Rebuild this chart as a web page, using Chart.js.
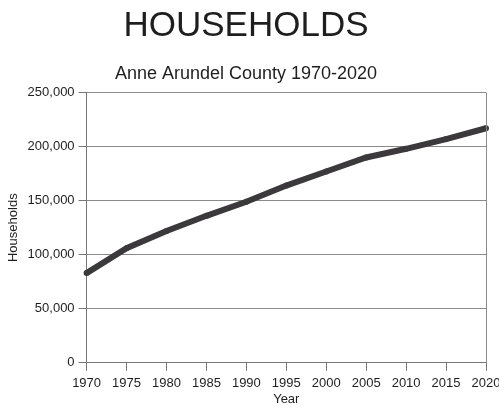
<!DOCTYPE html>
<html>
<head>
<meta charset="utf-8">
<script src="https://cdn.jsdelivr.net/npm/chart.js@4/dist/chart.umd.min.js"></script>
<style>
  html, body { margin: 0; padding: 0; background: #fff; }
  #wrap { width: 499px; height: 409px; position: relative; }
</style>
</head>
<body>
<div id="wrap"><canvas id="hhChart"></canvas></div>
<script>
'use strict';

// --- data ---
const YEARS = ['1970', '1975', '1980', '1985', '1990', '1995', '2000', '2005', '2010', '2015', '2020'];
const HOUSEHOLDS = [83000, 106000, 122000, 136000, 149000, 164000, 177000, 190000, 198000, 207000, 217000];
const Y_MIN = 0;
const Y_MAX = 250000;
const Y_STEP = 50000;

const FONT = '"Liberation Sans", Arial, sans-serif';
const INK = '#1e1e1e';

// right edge of the plot box
const rightBorder = {
  id: 'rightBorder',
  afterDraw(chart) {
    const { ctx, chartArea: a } = chart;
    ctx.save();
    ctx.strokeStyle = '#8a8a8a';
    ctx.lineWidth = 1;
    ctx.beginPath();
    ctx.moveTo(a.right + 0.5, a.top);
    ctx.lineTo(a.right + 0.5, a.bottom);
    ctx.stroke();
    ctx.restore();
  },
};

new Chart(document.getElementById('hhChart').getContext('2d'), {
  type: 'line',
  data: {
    labels: YEARS,
    datasets: [{
      label: 'Households',
      data: HOUSEHOLDS,
      borderColor: '#3b393b',
      backgroundColor: '#3b393b',
      borderWidth: 6,
      pointRadius: 3,
      pointBorderWidth: 0,
      tension: 0,
      fill: false,
    }],
  },
  options: {
    responsive: true,
    maintainAspectRatio: false,
    animation: false,
    layout: { autoPadding: false, padding: { top: 5, left: 6, right: 13, bottom: 2 } },
    plugins: {
      legend: { display: false },
      tooltip: { enabled: false },
      title: {
        display: true,
        text: 'HOUSEHOLDS',
        color: INK,
        font: { family: FONT, size: 35, weight: 'normal' },
        padding: { top: 0, bottom: 16 },
      },
      subtitle: {
        display: true,
        text: 'Anne Arundel County 1970-2020',
        color: INK,
        font: { family: FONT, size: 18, weight: 'normal' },
        padding: { top: 0, bottom: 8 },
      },
    },
    scales: {
      x: {
        offset: false,
        // let the last year label run off the edge like the scan does
        afterFit: (s) => { s.paddingRight = 0; },
        grid: { drawOnChartArea: false, drawTicks: true, tickLength: 8, tickColor: '#777' },
        border: { color: '#777' },
        ticks: { color: INK, font: { family: FONT, size: 13 }, padding: 5, maxRotation: 0, autoSkip: false },
        title: { display: true, text: 'Year', color: INK, font: { family: FONT, size: 13 }, padding: { top: -5, bottom: 0 } },
      },
      y: {
        min: Y_MIN,
        max: Y_MAX,
        ticks: { stepSize: Y_STEP, color: INK, font: { family: FONT, size: 13 }, padding: 4 },
        grid: { color: '#8a8a8a', lineWidth: 1, tickLength: 8, tickColor: '#777' },
        border: { color: '#777' },
        title: { display: true, text: 'Households', color: INK, font: { family: FONT, size: 13 }, padding: { top: 0, bottom: 2 } },
      },
    },
  },
  plugins: [rightBorder],
});
</script>
</body>
</html>
